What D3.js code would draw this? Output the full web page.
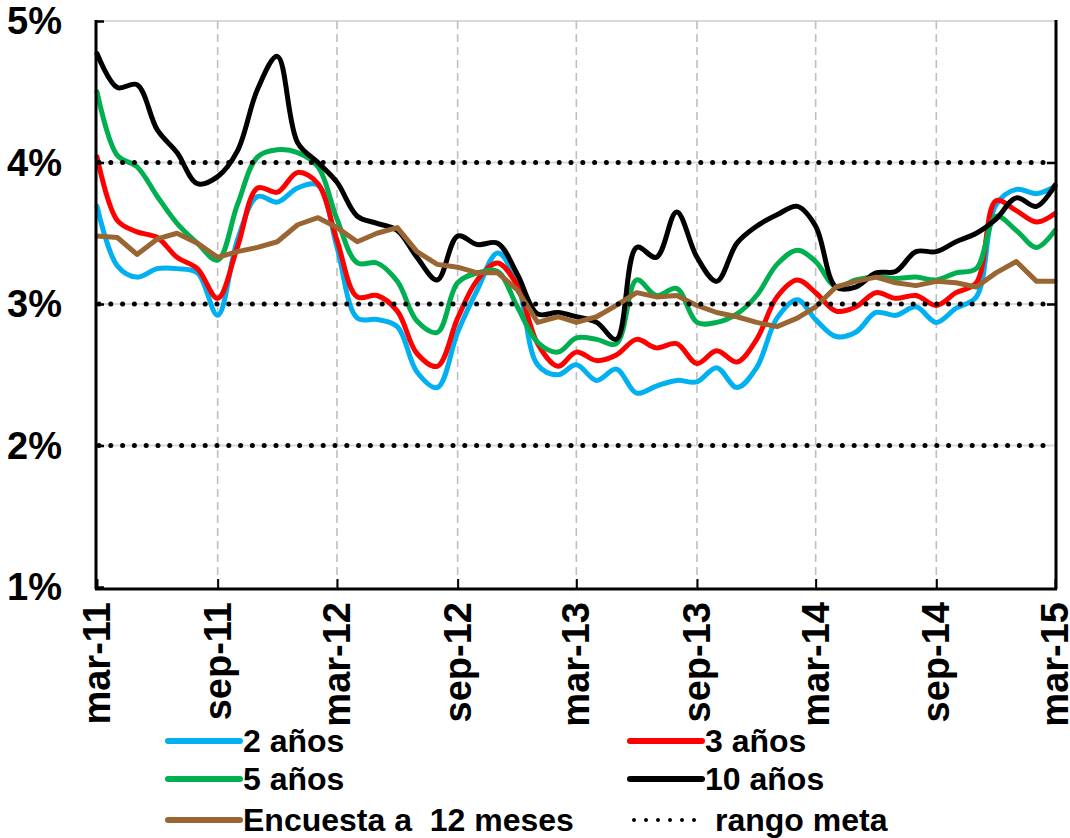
<!DOCTYPE html>
<html>
<head>
<meta charset="utf-8">
<script src="https://cdn.jsdelivr.net/npm/d3@7"></script>
<style>
  html, body { margin: 0; padding: 0; background: #fff; }
  svg { display: block; font-family: "Liberation Sans", Arial, sans-serif; font-weight: bold; }
  svg text { white-space: pre; }
</style>
</head>
<body>
<svg id="chart" width="1070" height="838"></svg>
<script>
// Monthly observations, March 2011 – March 2015 (percent)
const startMonth = new Date(2011, 2, 1);
const endMonth = new Date(2015, 2, 1);

const y2 = [3.69,3.27,3.19,3.25,3.25,3.22,2.92,3.45,3.76,3.72,3.82,3.84,3.40,2.90,2.89,2.84,2.52,2.41,2.80,3.10,3.36,3.15,2.57,2.50,2.57,
            2.46,2.54,2.37,2.42,2.46,2.45,2.55,2.41,2.55,2.90,3.03,2.89,2.77,2.80,2.94,2.92,2.98,2.87,2.97,3.05,3.70,3.81,3.78,3.83];
const y3 = [4.04,3.59,3.51,3.47,3.33,3.25,3.04,3.40,3.82,3.79,3.93,3.85,3.45,3.05,3.06,2.95,2.65,2.56,2.90,3.17,3.29,3.13,2.72,2.56,2.66,
            2.60,2.64,2.75,2.69,2.72,2.58,2.67,2.59,2.75,3.05,3.17,3.08,2.95,2.98,3.08,3.04,3.06,2.99,3.08,3.15,3.73,3.66,3.58,3.64];
const y5 = [4.50,4.05,3.97,3.76,3.57,3.43,3.31,3.70,4.04,4.09,4.07,3.97,3.60,3.29,3.29,3.16,2.88,2.80,3.15,3.22,3.23,2.98,2.73,2.66,2.76,
            2.75,2.72,3.17,3.06,3.11,2.87,2.87,2.93,3.06,3.28,3.38,3.30,3.12,3.17,3.19,3.18,3.19,3.17,3.22,3.25,3.62,3.52,3.40,3.52];
const y10 = [4.77,4.53,4.55,4.23,4.07,3.85,3.90,4.08,4.52,4.75,4.14,4.00,3.86,3.62,3.57,3.52,3.33,3.17,3.48,3.42,3.43,3.21,2.93,2.94,2.91,
             2.87,2.75,3.40,3.33,3.65,3.33,3.16,3.43,3.55,3.63,3.69,3.55,3.12,3.12,3.22,3.23,3.37,3.37,3.44,3.50,3.60,3.75,3.69,3.84];
const survey = [3.48,3.47,3.35,3.46,3.50,3.43,3.33,3.37,3.40,3.44,3.56,3.61,3.54,3.44,3.50,3.54,3.37,3.28,3.26,3.22,3.22,3.10,2.87,2.91,2.87,
                2.91,2.99,3.08,3.05,3.06,2.99,2.94,2.91,2.87,2.84,2.90,2.98,3.12,3.16,3.19,3.15,3.13,3.16,3.15,3.12,3.22,3.30,3.16,3.16];

const targetBand = [2, 3, 4];
const yTicks = [1, 2, 3, 4, 5];
const xTickLabels = ["mar-11","sep-11","mar-12","sep-12","mar-13","sep-13","mar-14","sep-14","mar-15"];

const seriesNames = ["2 años", "3 años", "5 años", "10 años", "Encuesta a  12 meses"];
const seriesColors = ["#00b0f0", "#ff0000", "#00b050", "#000000", "#996633"];

const months = d3.timeMonth.range(startMonth, d3.timeMonth.offset(endMonth, 1));
const xTickDates = d3.timeMonth.range(startMonth, d3.timeMonth.offset(endMonth, 1), 6);

const svg = d3.select("#chart");
const plotLeft = 97, plotRight = 1055, plotTop = 21, plotBottom = 587;

const x = d3.scaleTime().domain([startMonth, endMonth]).range([plotLeft, plotRight]);
const y = d3.scaleLinear().domain([1, 5]).range([plotBottom, plotTop]);

// horizontal gridlines
svg.append("g").selectAll("line").data(yTicks.filter(d => d > 1)).join("line")
  .attr("x1", plotLeft).attr("x2", plotRight)
  .attr("y1", d => y(d)).attr("y2", d => y(d))
  .attr("stroke", "#d9d9d9").attr("stroke-width", 2);

// vertical dashed gridlines
svg.append("g").selectAll("line").data(xTickDates.slice(1, -1)).join("line")
  .attr("x1", d => x(d)).attr("x2", d => x(d))
  .attr("y1", plotTop).attr("y2", plotBottom)
  .attr("stroke", "#bfbfbf").attr("stroke-width", 1.6)
  .attr("stroke-dasharray", "8 5");

// series
const smooth = d3.line().x((d, i) => x(months[i])).y(d => y(d)).curve(d3.curveCatmullRom.alpha(0.5));
const straight = d3.line().x((d, i) => x(months[i])).y(d => y(d));
const allSeries = [y2, y3, y5, y10, survey];
allSeries.forEach((vals, k) => {
  svg.append("path")
    .attr("d", k === 4 ? straight(vals) : smooth(vals))
    .attr("fill", "none")
    .attr("stroke", seriesColors[k])
    .attr("stroke-width", 5)
    .attr("stroke-linejoin", "round")
    .attr("stroke-linecap", "round");
});

// target range (dotted)
svg.append("g").selectAll("line").data(targetBand).join("line")
  .attr("x1", plotLeft + 2).attr("x2", plotRight - 8)
  .attr("y1", d => y(d)).attr("y2", d => y(d))
  .attr("stroke", "#000").attr("stroke-width", 5)
  .attr("stroke-linecap", "round")
  .attr("stroke-dasharray", "0 11.8");

// axes
const yAxisL = d3.axisRight(y).tickValues(yTicks).tickSize(8).tickFormat("");
const gL = svg.append("g").attr("transform", `translate(${plotLeft - 1},0)`).call(yAxisL);
gL.select(".domain").attr("stroke-width", 3).attr("d", `M0,${plotTop - 1}V${plotBottom + 2}`);
gL.selectAll(".tick line").attr("stroke-width", 2.5);

const yAxisR = d3.axisLeft(y).tickValues(targetBand.filter(d => d > 2)).tickSize(9).tickFormat("");
const gR = svg.append("g").attr("transform", `translate(${plotRight + 1},0)`).call(yAxisR);
gR.select(".domain").attr("stroke-width", 3).attr("d", `M0,${plotTop - 1}V${plotBottom + 2}`);
gR.selectAll(".tick line").attr("stroke-width", 2.5);

const xAxis = d3.axisTop(x).tickValues(xTickDates).tickSize(10).tickFormat("");
const gX = svg.append("g").attr("transform", `translate(0,${plotBottom + 2})`).call(xAxis);
gX.select(".domain").attr("stroke-width", 3).attr("d", `M${plotLeft - 2},0H${plotRight + 2}`);
gX.selectAll(".tick line").attr("stroke-width", 2);

// y labels
svg.append("g").selectAll("text").data(yTicks).join("text")
  .attr("x", 62).attr("y", d => y(d))
  .attr("text-anchor", "end").attr("dominant-baseline", "central")
  .attr("font-size", 38)
  .text(d => d + "%");

// x labels, rotated
svg.append("g").selectAll("text").data(xTickDates).join("text")
  .attr("transform", d => `translate(${x(d)},602) rotate(-90)`)
  .attr("text-anchor", "end").attr("dominant-baseline", "central")
  .attr("font-size", 38)
  .text((d, i) => xTickLabels[i]);

// legend
const legendItems = [
  { name: seriesNames[0], color: seriesColors[0], lx: 168, ly: 741 },
  { name: seriesNames[1], color: seriesColors[1], lx: 630, ly: 741 },
  { name: seriesNames[2], color: seriesColors[2], lx: 168, ly: 779 },
  { name: seriesNames[3], color: seriesColors[3], lx: 630, ly: 779 },
  { name: seriesNames[4], color: seriesColors[4], lx: 168, ly: 820 }
];
const lg = svg.append("g");
legendItems.forEach(it => {
  lg.append("line").attr("x1", it.lx).attr("x2", it.lx + 72)
    .attr("y1", it.ly).attr("y2", it.ly)
    .attr("stroke", it.color).attr("stroke-width", 6).attr("stroke-linecap", "round");
  lg.append("text").attr("x", it.lx + 75).attr("y", it.ly)
    .attr("dominant-baseline", "central").attr("font-size", 32)
    .text(it.name);
});
lg.append("line").attr("x1", 634).attr("x2", 700).attr("y1", 820).attr("y2", 820)
  .attr("stroke", "#000").attr("stroke-width", 4).attr("stroke-linecap", "round")
  .attr("stroke-dasharray", "0 12");
lg.append("text").attr("x", 715).attr("y", 820)
  .attr("dominant-baseline", "central").attr("font-size", 32)
  .text("rango meta");
</script>
</body>
</html>
